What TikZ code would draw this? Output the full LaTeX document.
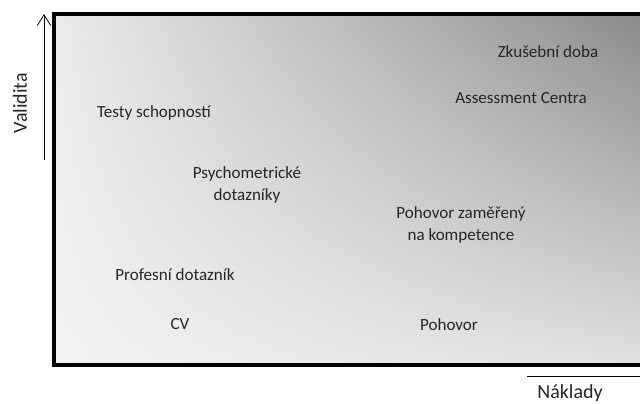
\documentclass[tikz,border=0pt]{standalone}
\usepackage{fontspec}
\setmainfont{Carlito}
\usetikzlibrary{arrows.meta,shadings}
\definecolor{cornerlight}{RGB}{243,243,243}
\definecolor{cornertopleft}{RGB}{236,236,236}
\definecolor{cornerdark}{RGB}{135,135,135}
\definecolor{cornerbottomright}{RGB}{224,224,224}
\definecolor{labeltext}{RGB}{38,38,38}
\tikzset{
  method/.style={font=\fontsize{12.8}{16}\selectfont, align=center, text=labeltext, inner sep=0pt},
  axislabel/.style={font=\fontsize{15}{18}\selectfont, text=labeltext, inner sep=0pt}
}

\begin{document}
\begin{tikzpicture}[x=0.75pt, y=-0.75pt, >={Straight Barb[length=8pt,width=10pt]}]
      \useasboundingbox (0,0) rectangle (640,404);
      \clip (0,0) rectangle (640,404);
      % field with the shading
      \shade[lower left=cornerlight, upper left=cornertopleft,
             upper right=cornerdark, lower right=cornerbottomright]
        (54,14) rectangle (660,365);
      \draw[line width=2.3pt] (660,14) -- (54,14) -- (54,365) -- (660,365);
      % axes
      \coordinate (validita-start) at (44,160);
      \coordinate (validita-end) at (44,14);
      \draw[->, line width=0.6pt] (validita-start) -- (validita-end);
      \node[axislabel, rotate=90] (validita) at (20,103) {Validita};
      \coordinate (naklady-start) at (527,376);
      \coordinate (naklady-end) at (652,376);
      \draw[->, line width=0.6pt] (naklady-start) -- (naklady-end);
      \node[axislabel] (naklady) at (570,393) {Náklady};
      % methods
      \node[method] (zkusebni) at (548,52) {Zkušební doba};
      \node[method] (assessment) at (521,98) {Assessment Centra};
      \node[method] (testy) at (154,113) {Testy schopností};
      \node[method] (psycho) at (247,185) {Psychometrické\\dotazníky};
      \node[method] (kompetence) at (461,225) {Pohovor zaměřený\\na kompetence};
      \node[method] (profesni) at (175,275) {Profesní dotazník};
      \node[method] (cv) at (180,324) {CV};
      \node[method] (pohovor) at (449,325) {Pohovor};
    \end{tikzpicture}
\end{document}
